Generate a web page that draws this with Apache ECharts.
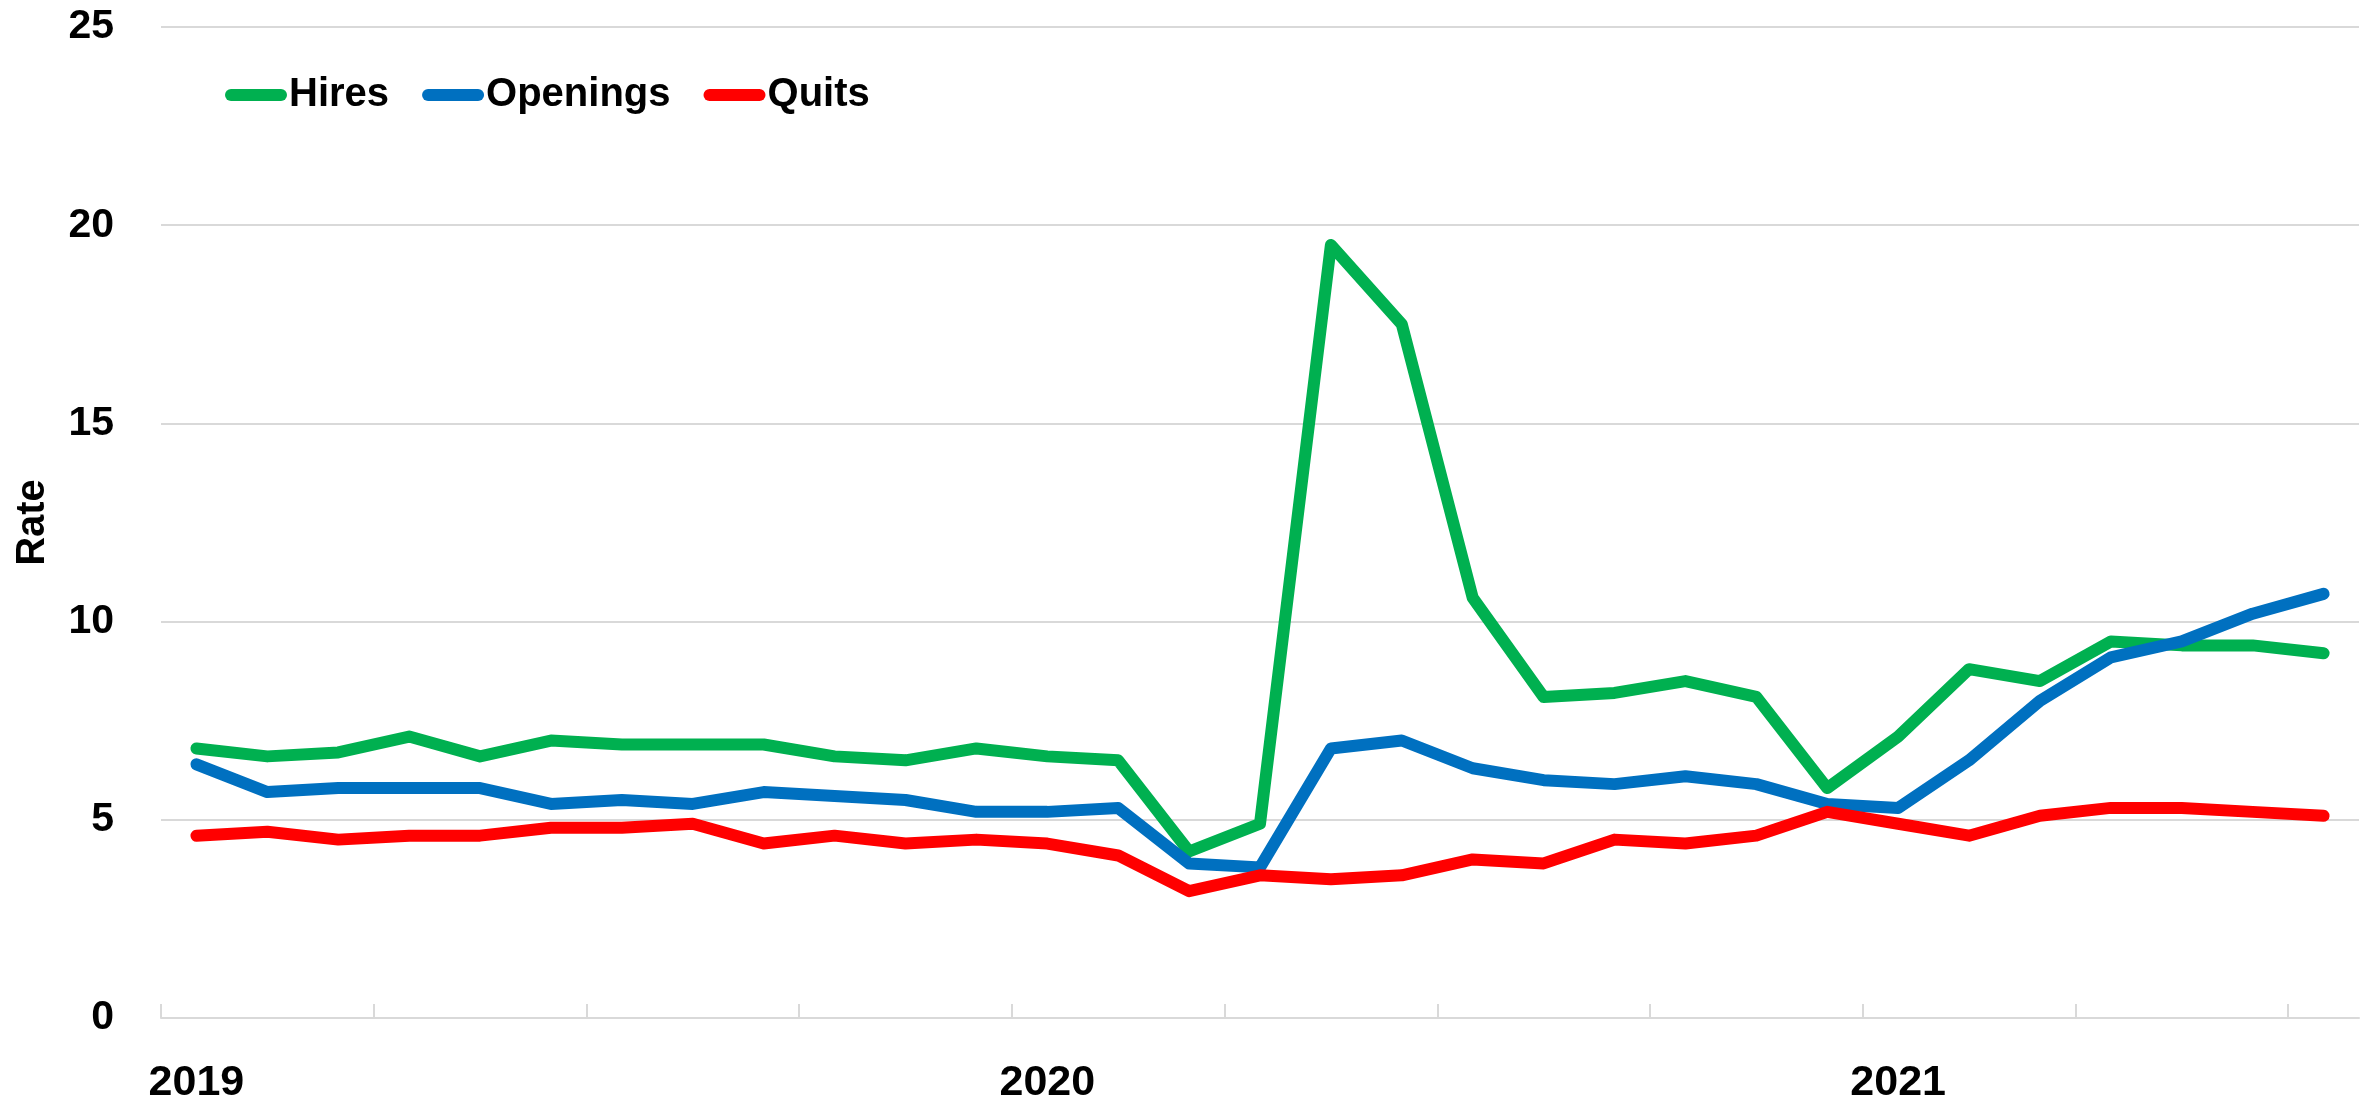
<!DOCTYPE html>
<html>
<head>
<meta charset="utf-8">
<script src="https://cdn.jsdelivr.net/npm/echarts@6/dist/echarts.min.js"></script>
<style>
html,body{margin:0;padding:0;background:#fff;}
#chart{width:2379px;height:1102px;}
</style>
</head>
<body>
<div id="chart"></div>
<script>
const months = [
  '2019-01','2019-02','2019-03','2019-04','2019-05','2019-06','2019-07','2019-08','2019-09','2019-10','2019-11','2019-12',
  '2020-01','2020-02','2020-03','2020-04','2020-05','2020-06','2020-07','2020-08','2020-09','2020-10','2020-11','2020-12',
  '2021-01','2021-02','2021-03','2021-04','2021-05','2021-06','2021-07'
];
const hires = [6.8,6.6,6.7,7.1,6.6,7.0,6.9,6.9,6.9,6.6,6.5,6.8,
               6.6,6.5,4.2,4.9,19.5,17.5,10.6,8.1,8.2,8.5,8.1,5.8,
               7.1,8.8,8.5,9.5,9.4,9.4,9.2];
const openings = [6.4,5.7,5.8,5.8,5.8,5.4,5.5,5.4,5.7,5.6,5.5,5.2,
                  5.2,5.3,3.9,3.8,6.8,7.0,6.3,6.0,5.9,6.1,5.9,5.4,
                  5.3,6.5,8.0,9.1,9.5,10.2,10.7];
const quits = [4.6,4.7,4.5,4.6,4.6,4.8,4.8,4.9,4.4,4.6,4.4,4.5,
               4.4,4.1,3.2,3.6,3.5,3.6,4.0,3.9,4.5,4.4,4.6,5.2,
               4.9,4.6,5.1,5.3,5.3,5.2,5.1];
const seriesNames = ['Hires','Openings','Quits'];
const seriesColors = ['#00B050','#0070C0','#FF0000'];
const yTicks = [0,5,10,15,20,25];
const monthsPerTick = 3;

const font = 'Liberation Sans';
const chart = echarts.init(document.getElementById('chart'), null, {renderer:'canvas'});
const pill = 'path://M6,0 L56,0 A6,6 0 0 1 56,12 L6,12 A6,6 0 0 1 6,0 Z';
const dataSets = [hires, openings, quits];

// tick positions at category boundaries, every 3 months (no tick at the far end)
const tickVals = [];
for (let k = 0; k * monthsPerTick < months.length; k++) tickVals.push(k * monthsPerTick - 0.5);

chart.setOption({
  animation:false,
  backgroundColor:'#ffffff',
  grid:{left:161, right:20, top:27, bottom:84, containLabel:false, outerBoundsMode:'none'},
  legend:{
    left:220, top:70,
    itemWidth:62, itemHeight:13, itemGap:33,
    icon:pill,
    textStyle:{fontFamily:font, fontSize:40, fontWeight:'bold', color:'#000', padding:[0,0,0,-3]},
    data:seriesNames
  },
  xAxis:[{
    type:'category',
    data:months,
    boundaryGap:true,
    axisLine:{show:true, lineStyle:{color:'#d9d9d9', width:2}},
    axisTick:{show:false},
    axisLabel:{
      interval:11, margin:44,
      fontFamily:font, fontSize:43, fontWeight:'bold', color:'#000',
      formatter:(v)=>v.slice(0,4)
    },
    splitLine:{show:false}
  },{
    type:'value',
    position:'bottom',
    min:-0.5, max:months.length - 0.5,
    axisLine:{show:false},
    axisLabel:{show:false},
    splitLine:{show:false},
    axisTick:{show:true, inside:true, length:14, customValues:tickVals, lineStyle:{color:'#d9d9d9', width:2}}
  }],
  yAxis:{
    type:'value',
    min:yTicks[0], max:yTicks[yTicks.length-1], interval:5,
    name:'Rate', nameLocation:'middle', nameGap:108, nameRotate:90,
    nameTextStyle:{fontFamily:font, fontSize:40, fontWeight:'bold', color:'#000'},
    axisLine:{show:false},
    axisTick:{show:false},
    axisLabel:{margin:47, fontFamily:font, fontSize:41, fontWeight:'bold', color:'#000'},
    splitLine:{show:true, lineStyle:{color:'#d9d9d9', width:2}}
  },
  series: seriesNames.map((n,i)=>({
    name:n, type:'line', data:dataSets[i],
    xAxisIndex:0,
    symbol:'none', showSymbol:false,
    color:seriesColors[i],
    lineStyle:{color:seriesColors[i], width:12, cap:'round', join:'round'},
    itemStyle:{color:seriesColors[i]},
    z:2+i
  }))
});
</script>
</body>
</html>
